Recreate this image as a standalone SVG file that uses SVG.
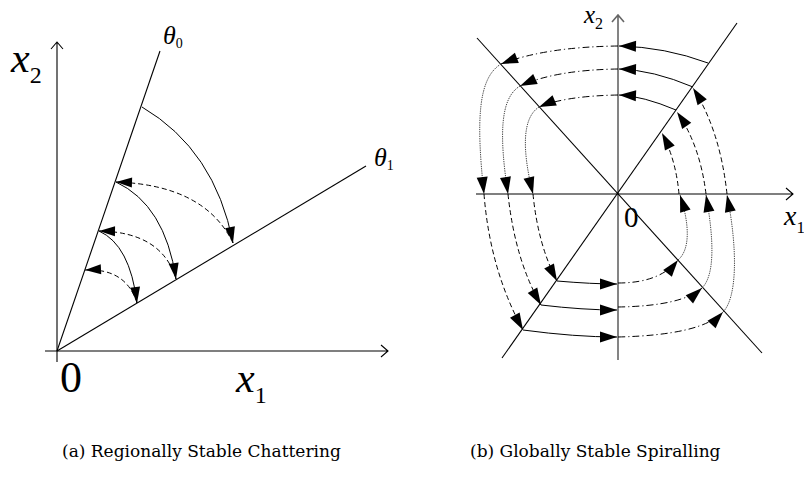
<svg xmlns="http://www.w3.org/2000/svg" width="804" height="480" viewBox="0 0 804 480">
<defs>
<marker id="ahL" markerUnits="userSpaceOnUse" markerWidth="17" markerHeight="10" refX="16" refY="5" orient="auto" overflow="visible">
<path d="M0,0 L16,5 L0,10 Z" fill="#000" stroke="none"/>
</marker>
<marker id="ahR" markerUnits="userSpaceOnUse" markerWidth="18" markerHeight="11" refX="17" refY="5.5" orient="auto" overflow="visible">
<path d="M0,0 L17,5.5 L0,11 Z" fill="#000" stroke="none"/>
</marker>
<style>
.ax{fill:none;stroke:#000;stroke-width:1.1}
.axg{fill:none;stroke:#666;stroke-width:1.6}
.solid{fill:none;stroke:#000;stroke-width:1}
.dash{fill:none;stroke:#000;stroke-width:1;stroke-dasharray:5,3}
.dd{fill:none;stroke:#000;stroke-width:1;stroke-dasharray:7,3,1.2,3}
.dot{fill:none;stroke:#444;stroke-width:1;stroke-dasharray:1.3,1}
.lbl{font-family:"Liberation Serif","Times New Roman",serif;fill:#000}
.it{font-style:italic}
.cap{font-family:"DejaVu Serif","Liberation Serif",serif;font-size:17px;fill:#000}
</style>
</defs>
<rect width="804" height="480" fill="#fff"/>

<g id="panel-a">
<g id="a-axes">
<path class="ax" d="M57,362 V42 M51,49 L57,42 L63,49"/>
<path class="ax" d="M45,351 H388 M381,345 L388,351 L381,357"/>
<path class="ax" d="M57,351 L160,51"/>
<path class="ax" d="M57,351 L366,166"/>
</g>
<g id="a-labels">
<text class="lbl" x="11" y="72" font-size="42"><tspan class="it">x</tspan><tspan font-size="24" dy="11">2</tspan></text>
<text class="lbl" x="163" y="44" font-size="26"><tspan class="it">θ</tspan><tspan font-size="14" dy="4">0</tspan></text>
<text class="lbl" x="374" y="166" font-size="26"><tspan class="it">θ</tspan><tspan font-size="14" dy="4">1</tspan></text>
<text class="lbl" x="60" y="392" font-size="44">0</text>
<text class="lbl" x="236" y="392" font-size="42"><tspan class="it">x</tspan><tspan font-size="24" dy="11">1</tspan></text>
</g>
<g id="a-connectors">
<path class="solid" d="M142,107 Q215,150 233,243" marker-end="url(#ahL)"/>
<path class="dash" d="M233,243 Q205,185 116,182" marker-end="url(#ahL)"/>
<path class="solid" d="M116,182 Q165,205 176,279" marker-end="url(#ahL)"/>
<path class="dash" d="M176,279 Q162,232 99,231" marker-end="url(#ahL)"/>
<path class="solid" d="M99,231 Q130,245 137,303" marker-end="url(#ahL)"/>
<path class="dash" d="M137,303 Q126,268 85,270" marker-end="url(#ahL)"/>
</g>
</g>

<g id="panel-b">
<g id="b-axes">
<path class="axg" d="M618,360 V15 M612,22 L618,15 L624,22"/>
<path class="ax" d="M476,194 H793 M786,188 L793,194 L786,200"/>
<path class="ax" d="M737,23 L502,358"/>
<path class="ax" d="M477,38 L762,353"/>
</g>
<g id="b-labels">
<text class="lbl" x="584" y="23" font-size="25"><tspan class="it">x</tspan><tspan font-size="16" dy="6">2</tspan></text>
<text class="lbl" x="784" y="225" font-size="28"><tspan class="it">x</tspan><tspan font-size="17" dy="8">1</tspan></text>
<text class="lbl" x="624" y="227" font-size="29">0</text>
</g>
<g id="b-connectors">
<path class="solid" d="M708,63 Q665,47 619,46" marker-end="url(#ahR)"/>
<path class="solid" d="M693,87 Q653,70 619,69" marker-end="url(#ahR)"/>
<path class="solid" d="M676,110 Q643,96 619,95" marker-end="url(#ahR)"/>
<path class="dd" d="M618,46 Q545,47 501,64" marker-end="url(#ahR)"/>
<path class="dd" d="M618,69 Q555,70 520,86" marker-end="url(#ahR)"/>
<path class="dd" d="M618,95 Q565,96 539,107" marker-end="url(#ahR)"/>
<path class="dot" d="M501,64 C478,78 476,120 484,194" marker-end="url(#ahR)"/>
<path class="dot" d="M520,86 C500,98 499,135 508,194" marker-end="url(#ahR)"/>
<path class="dot" d="M539,107 C522,118 522,150 533,194" marker-end="url(#ahR)"/>
<path class="dash" d="M484,194 Q490,270 523,330" marker-end="url(#ahR)"/>
<path class="dash" d="M508,194 Q515,260 541,305" marker-end="url(#ahR)"/>
<path class="dash" d="M533,194 Q538,245 557,281" marker-end="url(#ahR)"/>
<path class="solid" d="M523,330 Q575,337 617,337" marker-end="url(#ahR)"/>
<path class="solid" d="M541,305 Q583,310 617,310" marker-end="url(#ahR)"/>
<path class="solid" d="M557,281 Q592,284 617,284" marker-end="url(#ahR)"/>
<path class="dd" d="M618,283 Q660,283 678,260" marker-end="url(#ahR)"/>
<path class="dd" d="M618,307 Q682,306 702,288" marker-end="url(#ahR)"/>
<path class="dd" d="M618,337 Q702,335 723,312" marker-end="url(#ahR)"/>
<path class="dot" d="M678,260 C690,250 690,225 680,195" marker-end="url(#ahR)"/>
<path class="dot" d="M702,288 C715,275 714,240 706,195" marker-end="url(#ahR)"/>
<path class="dot" d="M723,312 C737,298 738,250 727,195" marker-end="url(#ahR)"/>
<path class="dash" d="M679,194 Q676,160 662,133" marker-end="url(#ahR)"/>
<path class="dash" d="M706,194 Q700,145 677,112" marker-end="url(#ahR)"/>
<path class="dash" d="M727,194 Q720,130 693,88" marker-end="url(#ahR)"/>
</g>
</g>

<g id="captions">
<text class="cap" x="62" y="457">(a)  Regionally Stable Chattering</text>
<text class="cap" x="470" y="457">(b)  Globally Stable Spiralling</text>
</g>
</svg>
